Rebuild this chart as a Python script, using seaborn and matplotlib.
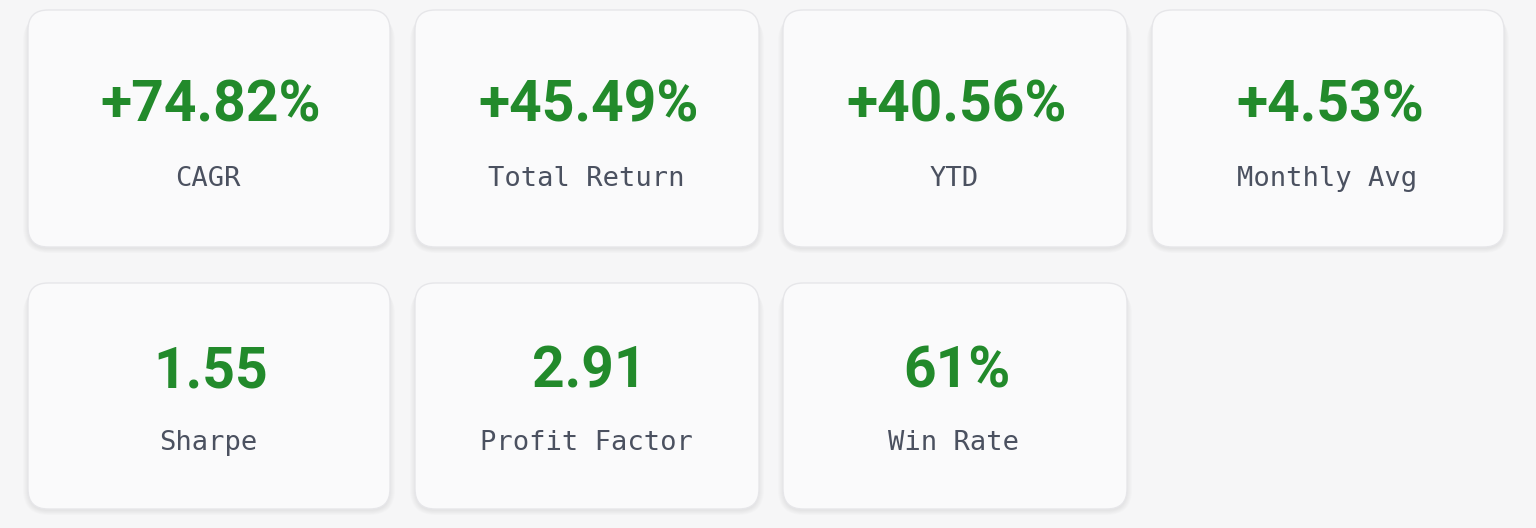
import matplotlib
matplotlib.use("Agg")
import matplotlib.pyplot as plt
from matplotlib.patches import FancyBboxPatch
import seaborn as sns

# metric cards
values = ["+74.82%", "+45.49%", "+40.56%", "+4.53%", "1.55", "2.91", "61%"]
labels = ["CAGR", "Total Return", "YTD", "Monthly Avg", "Sharpe", "Profit Factor", "Win Rate"]

# grid layout in pixels (left, width) per column, (top, height) per row
col_left = [28, 415, 783, 1152]
col_width = [362, 344, 344, 352]
row_top = [10, 283]
row_height = [237, 226]
value_base = [122, 387]
label_base = [186, 450]

sns.set_theme(style="white")
plt.rcParams['font.family'] = ['Roboto', 'DejaVu Sans']

BG = "#f6f6f7"
CARD = "#fafafb"
GREEN = "#228a2b"
GREY = "#4b5160"

fig = plt.figure(figsize=(15.36, 5.28), dpi=100)
fig.patch.set_facecolor(BG)
ax = fig.add_axes([0, 0, 1, 1])
ax.set_xlim(0, 1536)
ax.set_ylim(528, 0)
ax.axis('off')
ax.set_facecolor(BG)

for i, (val, lab) in enumerate(zip(values, labels)):
    r, c = divmod(i, 4)
    x0, w = col_left[c], col_width[c]
    y0, h = row_top[r], row_height[r]
    # soft shadow
    for k in range(6):
        sh = FancyBboxPatch((x0 - k, y0 + 2 + k * 0.8), w + 2 * k, h,
                            boxstyle="round,pad=0,rounding_size=%d" % (20 + k),
                            fc="#000000", ec="none", alpha=0.012, zorder=1)
        ax.add_patch(sh)
    card = FancyBboxPatch((x0, y0), w, h,
                          boxstyle="round,pad=0,rounding_size=20",
                          fc=CARD, ec="#e6e6e9", lw=1.0, zorder=2)
    ax.add_patch(card)
    cx = x0 + w / 2
    ax.text(cx + 2, value_base[r], val, ha='center', va='baseline',
            fontsize=41, fontweight='bold', color=GREEN, zorder=3)
    ax.text(cx - 1, label_base[r], lab, ha='center', va='baseline',
            fontsize=19.5, family=['DejaVu Sans Mono'], color=GREY, zorder=3)

fig.savefig("out.png", dpi=100, facecolor=BG)
